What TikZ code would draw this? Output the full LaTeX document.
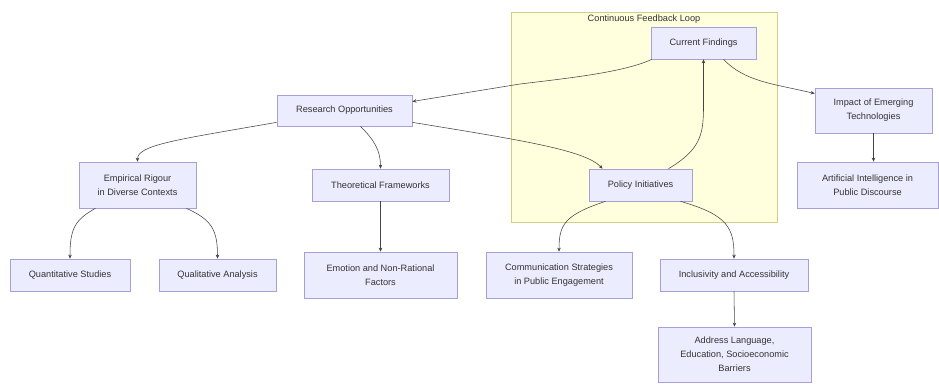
\documentclass[tikz,border=0pt]{standalone}
\usepackage{fontspec}
\setmainfont{Liberation Sans}
\usetikzlibrary{arrows.meta}
\definecolor{nodefill}{HTML}{ECECFF}
\definecolor{nodeline}{HTML}{A89FD8}
\definecolor{txt}{HTML}{333333}
\definecolor{edgecol}{HTML}{444444}
\definecolor{clfill}{HTML}{FFFFDE}
\definecolor{clline}{HTML}{CFCF85}
\tikzset{
  box/.style={draw=nodeline, fill=nodefill, line width=0.7pt, inner sep=0pt,
    align=center, text=txt, font=\fontsize{9.2}{13.8}\selectfont},
  edge/.style={draw=edgecol, line width=0.55pt, -{Stealth[length=4pt,width=3.5pt]}},
}
\begin{document}
\begin{tikzpicture}[x=1pt,y=-1pt]
\useasboundingbox (0,0) rectangle (939,383);
\fill[white] (0,0) rectangle (939,383);
% cluster
\node[draw=clline, fill=clfill, line width=0.7pt, minimum width=266pt, minimum height=210pt, inner sep=0pt] (loop) at (644,117) {};
\node[text=txt, font=\fontsize{9.2}{11}\selectfont, inner sep=0pt] (looplabel) at (644,19) {Continuous Feedback Loop};
% nodes
\node[box, minimum width=105pt, minimum height=32pt] (cf) at (703.5,43) {Current Findings};
\node[box, minimum width=135pt, minimum height=31pt] (ro) at (344.5,110.5) {Research Opportunities};
\node[box, minimum width=117pt, minimum height=46pt] (emp) at (137.5,185) {Empirical Rigour\\in Diverse Contexts};
\node[box, minimum width=137pt, minimum height=32pt] (th) at (380.5,185) {Theoretical Frameworks};
\node[box, minimum width=103pt, minimum height=32pt] (pi) at (640.5,185) {Policy Initiatives};
\node[box, minimum width=117pt, minimum height=45pt] (imp) at (873.5,110.5) {Impact of Emerging\\Technologies};
\node[box, minimum width=141pt, minimum height=46pt] (ai) at (867.5,185) {Artificial Intelligence in\\Public Discourse};
\node[box, minimum width=120pt, minimum height=32pt] (qs) at (70,275) {Quantitative Studies};
\node[box, minimum width=117pt, minimum height=32pt] (qa) at (217.5,275) {Qualitative Analysis};
\node[box, minimum width=153pt, minimum height=46pt] (em) at (380.5,275) {Emotion and Non-Rational\\Factors};
\node[box, minimum width=146pt, minimum height=46pt] (cs) at (559,275) {Communication Strategies\\in Public Engagement};
\node[box, minimum width=148pt, minimum height=32pt] (ia) at (734,275) {Inclusivity and Accessibility};
\node[box, minimum width=153pt, minimum height=55pt] (ad) at (734.5,354.5) {Address Language,\\Education, Socioeconomic\\Barriers};
% edges
\draw[edge] ([xshift=1pt]cf.south west) .. controls (625,72) and (570,78) .. (520,84) -- ([yshift=9pt]ro.east);
\draw[edge] ([xshift=20pt]cf.south) .. controls (745,82) and (775,84) .. ([yshift=17pt]imp.west);
\draw[edge] ([xshift=28pt]pi.north) .. controls (700,150) and (703,135) .. (703.5,110) -- (cf.south);
\draw[edge] ([yshift=4pt]ro.south west) .. controls (175,140) and (137.5,145) .. (emp.north);
\draw[edge] ([xshift=16pt]ro.south) .. controls (374,140) and (380.5,150) .. (th.north);
\draw[edge] ([yshift=4pt]ro.south east) .. controls (520,140) and (585,150) .. ([xshift=-38pt]pi.north);
\draw[edge] ([xshift=-42pt]emp.south) .. controls (74,220) and (70,230) .. (qs.north);
\draw[edge] ([xshift=49pt]emp.south) .. controls (212,220) and (217.5,230) .. (qa.north);
\draw[edge] (th.south) -- (em.north);
\draw[edge] ([xshift=-35pt]pi.south) .. controls (564,215) and (559,225) .. (cs.north);
\draw[edge] ([xshift=40pt]pi.south) .. controls (728,215) and (734,228) .. (ia.north);
\draw[edge] (ia.south) -- (ad.north);
\draw[edge] (imp.south) -- (imp.south |- ai.north);
\end{tikzpicture}
\end{document}
